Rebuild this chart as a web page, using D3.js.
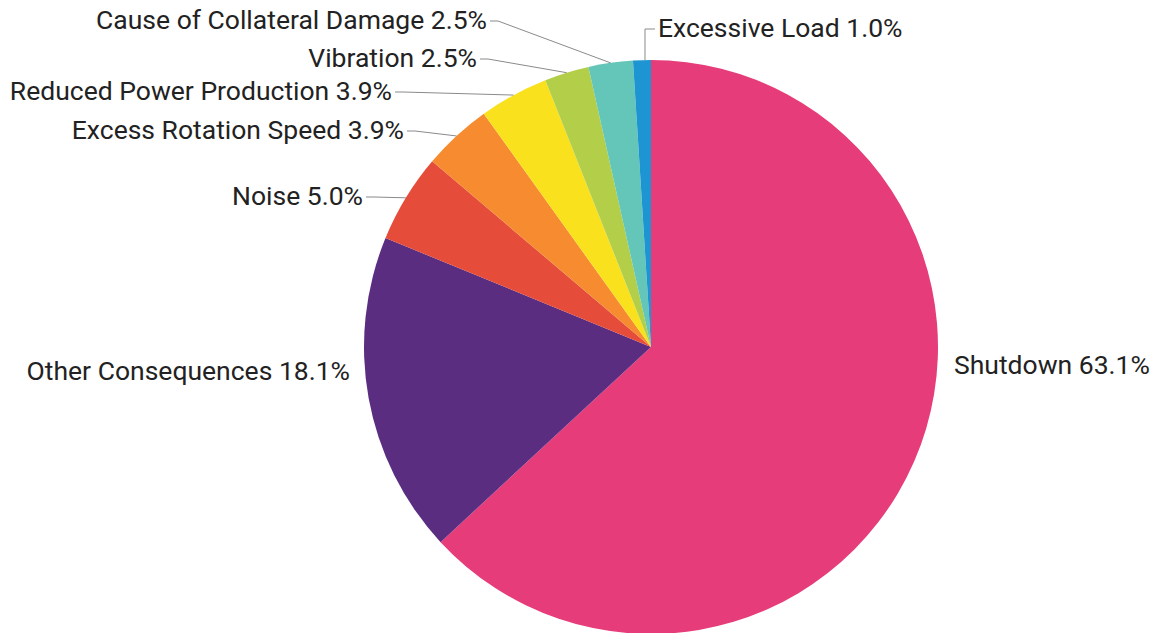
<!DOCTYPE html>
<html>
<head>
<meta charset="utf-8">
<script src="https://cdn.jsdelivr.net/npm/d3@7"></script>
<style>
  html, body { margin: 0; padding: 0; background: #fff; }
  svg { display: block; }
  text { font-family: Roboto, "Noto Sans", sans-serif; font-size: 26.5px; fill: #222; }
</style>
</head>
<body>
<svg id="chart" width="1154" height="633"></svg>
<script>
// Consequences, clockwise from 12 o'clock
const categories = [
  "Shutdown",
  "Other Consequences",
  "Noise",
  "Excess Rotation Speed",
  "Reduced Power Production",
  "Vibration",
  "Cause of Collateral Damage",
  "Excessive Load"
];
const shares = [63.1, 18.1, 5.0, 3.9, 3.9, 2.5, 2.5, 1.0];
const colors = ["#e63d7a", "#5a2d81", "#e64c3a", "#f68b2f", "#fae11e", "#b3cf4a", "#64c6b8", "#1e95d3"];

// Label placement: text anchor point (cap-middle y), side, and whether a leader line is drawn
const labelLayout = [
  { x: 954, y: 365, side: "right", leader: false },
  { x: 350, y: 371, side: "left",  leader: false },
  { x: 363, y: 196, side: "left",  leader: true },
  { x: 404, y: 130, side: "left",  leader: true },
  { x: 392, y: 91,  side: "left",  leader: true },
  { x: 477, y: 58,  side: "left",  leader: true },
  { x: 487, y: 20,  side: "left",  leader: true },
  { x: 658, y: 28,  side: "right", leader: true, vertical: true }
];

const svg = d3.select("#chart");
const cx = 651, cy = 347, radius = 287;
const fontSize = 26.5;

const pie = d3.pie().sort(null).value(d => d.value);
const arc = d3.arc().innerRadius(0).outerRadius(radius);
const data = categories.map((c, i) => ({ name: c, value: shares[i], color: colors[i], layout: labelLayout[i] }));
const arcs = pie(data);

const g = svg.append("g").attr("transform", `translate(${cx},${cy})`);

g.selectAll("path.slice")
  .data(arcs)
  .join("path")
  .attr("class", "slice")
  .attr("d", arc)
  .attr("fill", d => d.data.color);

// Point on the rim at the middle of a slice, in page coordinates
function rimPoint(d) {
  const a = (d.startAngle + d.endAngle) / 2;
  return [cx + radius * Math.sin(a), cy - radius * Math.cos(a)];
}

const capHalf = fontSize * 0.711 / 2;

const labels = svg.append("g");

arcs.forEach(d => {
  const L = d.data.layout;
  if (L.leader) {
    const [ex, ey] = rimPoint(d);
    const ly = L.y + 1;
    let pts;
    if (L.vertical) {
      pts = [[ex + 3, ey], [ex + 3, ly], [L.x - 3, ly]];
    } else if (L.side === "left") {
      pts = [[L.x + 3, ly], [L.x + 11, ly], [ex, ey]];
    } else {
      pts = [[L.x - 3, ly], [L.x - 11, ly], [ex, ey]];
    }
    labels.append("path")
      .attr("d", d3.line()(pts))
      .attr("fill", "none")
      .attr("stroke", "#8a8a8a")
      .attr("stroke-width", 1);
  }
  labels.append("text")
    .attr("x", L.x)
    .attr("y", L.y + capHalf)
    .attr("text-anchor", L.side === "left" ? "end" : "start")
    .text(`${d.data.name} ${d.data.value.toFixed(1)}%`);
});
</script>
</body>
</html>
